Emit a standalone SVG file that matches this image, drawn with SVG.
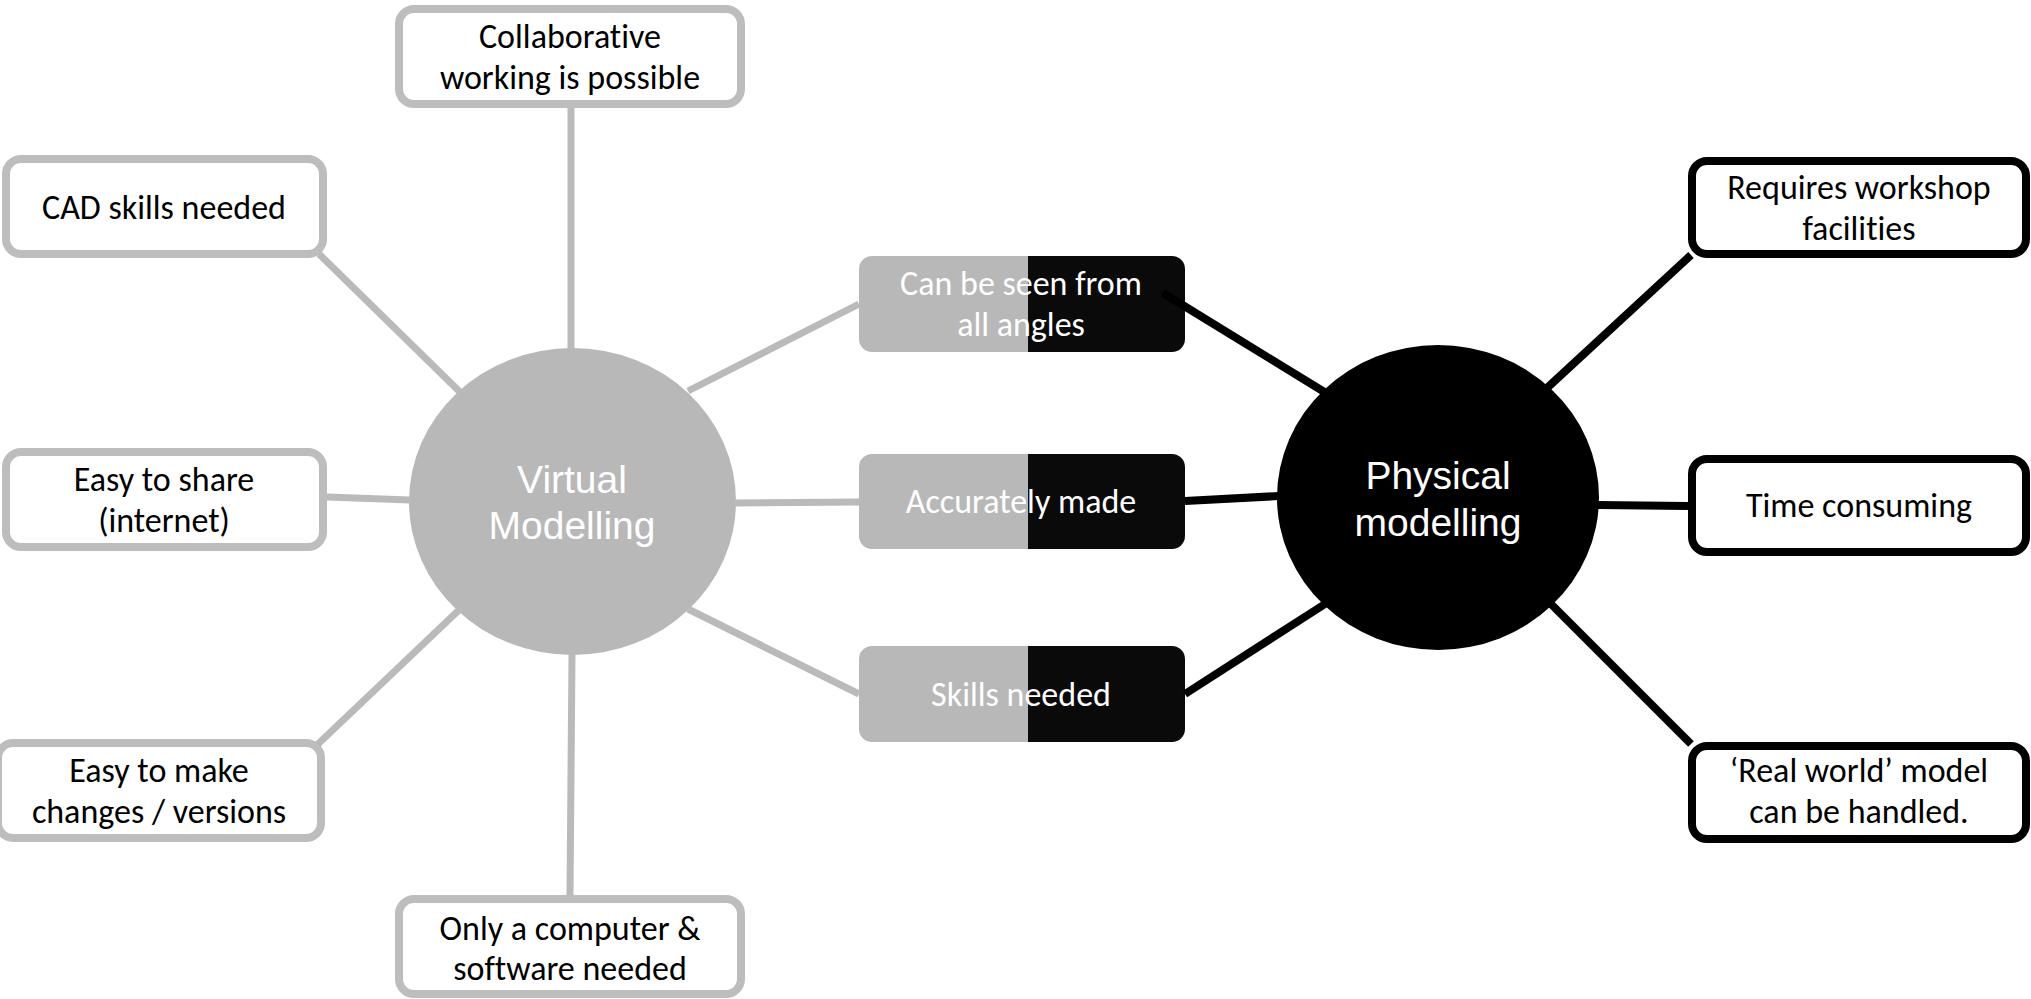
<svg xmlns="http://www.w3.org/2000/svg" width="2031" height="999" viewBox="0 0 2031 999">
  <style>
    .box-grey { fill: #ffffff; stroke: #bdbdbd; stroke-width: 8; }
    .box-black { fill: #ffffff; stroke: #000000; stroke-width: 8; }
    .label { font-family: Carlito, Calibri, Lato, "Open Sans", sans-serif; font-size: 34px; fill: #000000; text-anchor: middle; font-variant-ligatures: none; }
    .label-w { font-family: Carlito, Calibri, Lato, "Open Sans", sans-serif; font-size: 34px; fill: #ffffff; text-anchor: middle; font-variant-ligatures: none; }
    .hub { font-family: "Liberation Sans", Arial, sans-serif; font-size: 39px; fill: #ffffff; text-anchor: middle; }
    .c-grey { stroke: #bababa; stroke-width: 7; fill: none; }
    .c-black { stroke: #000000; stroke-width: 8; fill: none; }
  </style>
  <defs>
    <clipPath id="clip-mid1"><rect x="859" y="256" width="326" height="96" rx="13"/></clipPath>
    <clipPath id="clip-mid2"><rect x="859" y="454" width="326" height="95" rx="13"/></clipPath>
    <clipPath id="clip-mid3"><rect x="859" y="646" width="326" height="96" rx="13"/></clipPath>
  </defs>
  <rect width="2031" height="999" fill="#ffffff"/>

  <!-- central hubs -->
  <g id="virtual-modelling">
    <ellipse cx="572.5" cy="501.5" rx="163.5" ry="153.5" fill="#b8b8b8"/>
    <text class="hub" x="572" y="493">Virtual</text>
    <text class="hub" x="572" y="539">Modelling</text>
  </g>
  <g id="physical-modelling">
    <ellipse cx="1438" cy="497.5" rx="161" ry="152.5" fill="#000000"/>
    <text class="hub" x="1438" y="489">Physical</text>
    <text class="hub" x="1438" y="536">modelling</text>
  </g>

  <!-- virtual modelling branches -->
  <g id="collaborative">
    <rect class="box-grey" x="399" y="9" width="342" height="95" rx="15"/>
    <text class="label" x="570" y="48">Collaborative</text>
    <text class="label" x="570" y="89">working is possible</text>
  </g>
  <g id="cad-skills">
    <rect class="box-grey" x="6" y="159" width="317" height="95" rx="15"/>
    <text class="label" x="164" y="219">CAD skills needed</text>
  </g>
  <g id="easy-share">
    <rect class="box-grey" x="6" y="452" width="317" height="95" rx="15"/>
    <text class="label" x="164" y="491">Easy to share</text>
    <text class="label" x="164" y="532">(internet)</text>
  </g>
  <g id="easy-changes">
    <rect class="box-grey" x="-2" y="743" width="323" height="95" rx="15"/>
    <text class="label" x="159" y="782">Easy to make</text>
    <text class="label" x="159" y="823">changes / versions</text>
  </g>
  <g id="computer-software">
    <rect class="box-grey" x="399" y="899" width="342" height="95" rx="15"/>
    <text class="label" x="570" y="940">Only a computer &amp;</text>
    <text class="label" x="570" y="980">software needed</text>
  </g>

  <!-- shared features -->
  <g id="all-angles">
    <g clip-path="url(#clip-mid1)">
      <rect x="859" y="256" width="169" height="96" fill="#b8b8b8"/>
      <rect x="1028" y="256" width="157" height="96" fill="#0a0a0a"/>
    </g>
    <text class="label-w" x="1021" y="295">Can be seen from</text>
    <text class="label-w" x="1021" y="336">all angles</text>
  </g>
  <g id="accurately-made">
    <g clip-path="url(#clip-mid2)">
      <rect x="859" y="454" width="169" height="95" fill="#b8b8b8"/>
      <rect x="1028" y="454" width="157" height="95" fill="#0a0a0a"/>
    </g>
    <text class="label-w" x="1021" y="513">Accurately made</text>
  </g>
  <g id="skills-needed">
    <g clip-path="url(#clip-mid3)">
      <rect x="859" y="646" width="169" height="96" fill="#b8b8b8"/>
      <rect x="1028" y="646" width="157" height="96" fill="#0a0a0a"/>
    </g>
    <text class="label-w" x="1021" y="706">Skills needed</text>
  </g>

  <!-- physical modelling branches -->
  <g id="workshop">
    <rect class="box-black" x="1692" y="161" width="334" height="93" rx="15"/>
    <text class="label" x="1859" y="199">Requires workshop</text>
    <text class="label" x="1859" y="240">facilities</text>
  </g>
  <g id="time-consuming">
    <rect class="box-black" x="1692" y="459" width="334" height="93" rx="15"/>
    <text class="label" x="1859" y="517">Time consuming</text>
  </g>
  <g id="real-world">
    <rect class="box-black" x="1692" y="746" width="334" height="93" rx="15"/>
    <text class="label" x="1859" y="782">‘Real world’ model</text>
    <text class="label" x="1859" y="823">can be handled.</text>
  </g>

  <!-- connectors -->
  <g id="connectors">
    <line class="c-grey" x1="571" y1="108" x2="571" y2="349"/>
    <line class="c-grey" x1="319" y1="254" x2="460" y2="392"/>
    <line class="c-grey" x1="327" y1="497" x2="410" y2="500"/>
    <line class="c-grey" x1="317" y1="745" x2="460" y2="609"/>
    <line class="c-grey" x1="572" y1="654" x2="570" y2="895"/>
    <line class="c-grey" x1="688" y1="391" x2="859" y2="304"/>
    <line class="c-grey" x1="735" y1="503" x2="859" y2="502"/>
    <line class="c-grey" x1="688" y1="609" x2="859" y2="694"/>
    <line class="c-black" x1="1163" y1="293" x2="1326" y2="393"/>
    <line class="c-black" x1="1185" y1="501" x2="1279" y2="496"/>
    <line class="c-black" x1="1185" y1="694" x2="1325" y2="604"/>
    <line class="c-black" x1="1547" y1="388" x2="1691" y2="255"/>
    <line class="c-black" x1="1598" y1="505" x2="1688" y2="506"/>
    <line class="c-black" x1="1550" y1="603" x2="1691" y2="744"/>
  </g>
</svg>
